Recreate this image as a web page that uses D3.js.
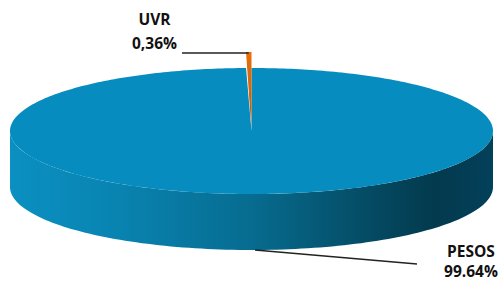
<!DOCTYPE html>
<html>
<head>
<meta charset="utf-8">
<script src="https://cdn.jsdelivr.net/npm/d3@7"></script>
<style>
  body { margin: 0; background: #fff; }
  svg { display: block; }
  text { font-family: "Open Sans", Calibri, sans-serif; font-weight: bold; fill: #111; }
</style>
</head>
<body>
<div id="Chart"></div>
<script>
var categories = ["PESOS", "UVR"];
var values = [99.64, 0.36];
var valueLabels = ["99.64%", "0,36%"];
var colors = ["#068cbe", "#e36c0a"];

var width = 503, height = 281;
var cx = 251.5, cy = 131, rx = 241.5, ry = 63, depth = 56;

var svg = d3.select("#Chart")
            .append("svg")
            .attr("class", "chart")
            .attr("width", width)
            .attr("height", height);

var defs = svg.append("defs");

// shading of the front wall, light on the left, dark on the right
var sideGrad = defs.append("linearGradient")
                   .attr("id", "sideGrad")
                   .attr("gradientUnits", "userSpaceOnUse")
                   .attr("x1", cx - rx).attr("x2", cx + rx)
                   .attr("y1", 0).attr("y2", 0);
[[0, "#0a90c1"], [0.2, "#0985b3"], [0.5, "#076c90"], [0.75, "#044a62"], [0.88, "#033a4e"], [1, "#03405a"]]
    .forEach(s => sideGrad.append("stop").attr("offset", s[0]).attr("stop-color", s[1]));

var uvrGrad = defs.append("linearGradient")
                  .attr("id", "uvrGrad")
                  .attr("x1", 0).attr("x2", 0).attr("y1", 0).attr("y2", 1);
[[0, "#e8700a"], [0.75, "#c8600a"], [1, "#7fb4cc"]]
    .forEach(s => uvrGrad.append("stop").attr("offset", s[0]).attr("stop-color", s[1]));

var pie = d3.pie().sort(null).value(d => d)
            .startAngle(0).endAngle(2 * Math.PI);
var arcs = pie(values);

function px(a, k) { return cx + rx * (k || 1) * Math.sin(a); }
function py(a, k) { return cy - ry * (k || 1) * Math.cos(a); }

// top face of a slice as a polygon along the ellipse
function topPath(d, k) {
    var n = Math.max(2, Math.ceil((d.endAngle - d.startAngle) * 60));
    var pts = [[cx, cy]];
    for (var i = 0; i <= n; i++) {
        var a = d.startAngle + (d.endAngle - d.startAngle) * i / n;
        pts.push([px(a), py(a, k)]);
    }
    return d3.line()(pts) + "Z";
}

// front wall between the two ellipses, only where it faces the viewer
function sidePath(d) {
    var a0 = Math.max(d.startAngle, Math.PI / 2), a1 = Math.min(d.endAngle, 3 * Math.PI / 2);
    if (a1 <= a0) return null;
    var n = 120, top = [], bottom = [];
    for (var i = 0; i <= n; i++) {
        var a = a0 + (a1 - a0) * i / n;
        top.push([px(a), py(a)]);
        bottom.push([px(a), py(a) + depth]);
    }
    return d3.line()(top.concat(bottom.reverse())) + "Z";
}

var g = svg.append("g");

g.selectAll(".side")
 .data(arcs.filter(d => sidePath(d)))
 .enter().append("path")
 .attr("class", "side")
 .attr("d", sidePath)
 .attr("fill", "url(#sideGrad)");

g.selectAll(".top")
 .data(arcs)
 .enter().append("path")
 .attr("class", "top")
 .attr("d", (d, i) => i == 1 ? topPath(d, (cy - 52) / ry) : topPath(d))
 .attr("fill", (d, i) => i == 1 ? "url(#uvrGrad)" : colors[i]);

// leader lines
var uvr = arcs[1];
var uvrA = (uvr.startAngle + uvr.endAngle) / 2;
var tipX = px(uvrA), tipY = py(uvrA, (cy - 52) / ry);
g.append("line")
 .attr("x1", 182).attr("y1", tipY + 1)
 .attr("x2", tipX).attr("y2", tipY + 1)
 .attr("stroke", "#222").attr("stroke-width", 1.3);

var pA = Math.PI * 0.9954;
g.append("line")
 .attr("x1", px(pA)).attr("y1", py(pA) + depth)
 .attr("x2", 417).attr("y2", 264)
 .attr("stroke", "#222").attr("stroke-width", 1.3);

// labels
var lab = svg.append("g").attr("font-size", 15.5);
lab.append("text").attr("x", 154.5).attr("y", 25).attr("text-anchor", "middle").text(categories[1]);
lab.append("text").attr("x", 154.5).attr("y", 49).attr("text-anchor", "middle").text(valueLabels[1]);
lab.append("text").attr("x", 471).attr("y", 257).attr("text-anchor", "middle").text(categories[0]);
lab.append("text").attr("x", 471).attr("y", 277).attr("text-anchor", "middle").text(valueLabels[0]);
</script>
</body>
</html>
